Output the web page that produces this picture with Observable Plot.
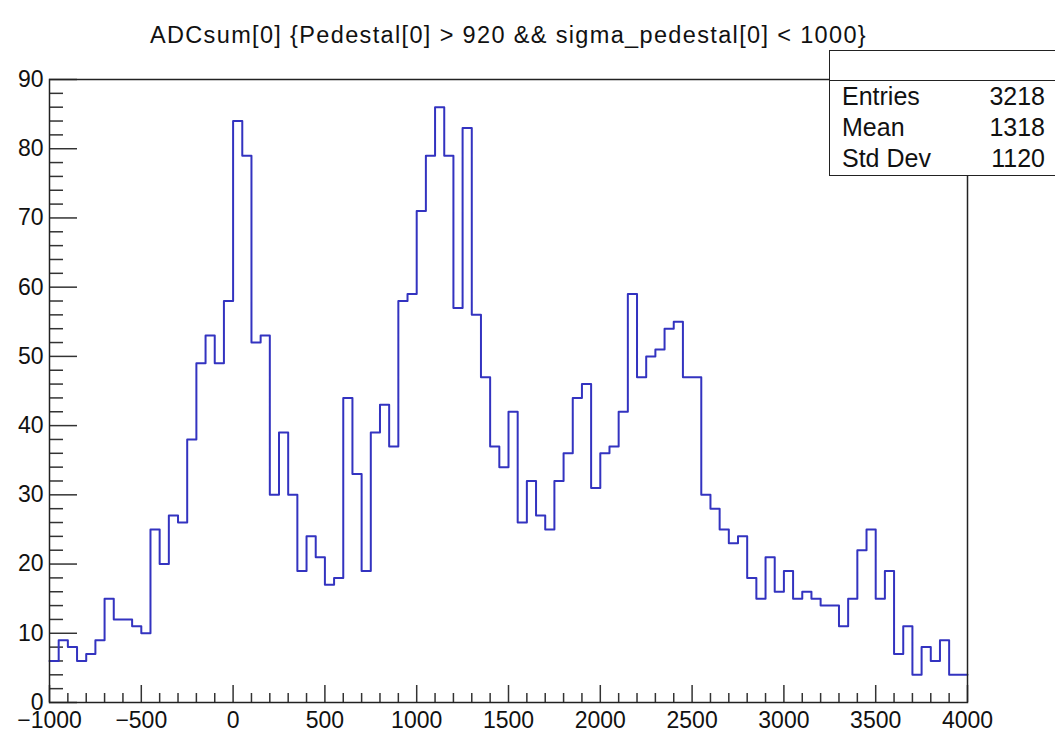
<!DOCTYPE html>
<html>
<head>
<meta charset="utf-8">
<script src="https://cdn.jsdelivr.net/npm/d3@7"></script>
<script src="https://cdn.jsdelivr.net/npm/@observablehq/plot@0.6"></script>
<style>
  html, body { margin: 0; padding: 0; background: #fff; overflow: hidden; }
  #wrap { position: relative; width: 1055px; height: 732px; font-family: "Liberation Sans", Arial, Helvetica, sans-serif; }
  #stats { position: absolute; left: 829px; top: 50px; width: 240px; height: 126px; border: 1.5px solid #222; background: #fff; box-sizing: border-box; color: #111; }
  #stats .head { height: 29px; border-bottom: 1.5px solid #222; }
  #stats .row { display: flex; justify-content: space-between; width: 215px; box-sizing: border-box; padding-left: 12px; font-size: 25px; line-height: 31px; height: 31px; }
</style>
</head>
<body>
<div id="wrap"></div>
<script>
// ---- data ----
const titleText = "ADCsum[0] {Pedestal[0] > 920 && sigma_pedestal[0] < 1000}";
const binLow = -1000;
const binWidth = 50;
const counts = [
  6, 9, 8, 6, 7, 9, 15, 12, 12, 11,
  10, 25, 20, 27, 26, 38, 49, 53, 49, 58,
  84, 79, 52, 53, 30, 39, 30, 19, 24, 21,
  17, 18, 44, 33, 19, 39, 43, 37, 58, 59,
  71, 79, 86, 79, 57, 83, 56, 47, 37, 34,
  42, 26, 32, 27, 25, 32, 36, 44, 46, 31,
  36, 37, 42, 59, 47, 50, 51, 54, 55, 47,
  47, 30, 28, 25, 23, 24, 18, 15, 21, 16,
  19, 15, 16, 15, 14, 14, 11, 15, 22, 25,
  15, 19, 7, 11, 4, 8, 6, 9, 4, 4
];
const xTicks = [-1000, -500, 0, 500, 1000, 1500, 2000, 2500, 3000, 3500, 4000];
const yTicks = [0, 10, 20, 30, 40, 50, 60, 70, 80, 90];
const statLabels = ["Entries", "Mean", "Std Dev"];
const statValues = ["3218", "1318", "1120"];

// ---- derived tables ----
const steps = counts.map((c, i) => ({x: binLow + i * binWidth, y: c}));
steps.push({x: binLow + counts.length * binWidth, y: counts[counts.length - 1]});
const xMinor = d3.range(-1000, 4001, 100).filter(v => !xTicks.includes(v));
const yMinor = d3.range(0, 91, 2).filter(v => !yTicks.includes(v));

const W = 1055, H = 732;
const mL = 49, mR = 88, mT = 79, mB = 30;
const fw = W - mL - mR, fh = H - mT - mB;
const tickCol = "#333";

const chart = Plot.plot({
  width: W, height: H,
  marginLeft: mL, marginRight: mR, marginTop: mT, marginBottom: mB,
  style: {fontFamily: "'Liberation Sans', Arial, Helvetica, sans-serif", color: "#111", background: "#fff"},
  x: {domain: [-1000, 4000]},
  y: {domain: [0, 90]},
  marks: [
    Plot.axisX(xTicks, {label: null, tickSize: 0, tickPadding: 9, fontSize: 23, tickFormat: d => d < 0 ? "\u2212" + Math.abs(d) : String(d)}),
    Plot.axisY(yTicks, {label: null, tickSize: 0, tickPadding: 6, fontSize: 23}),
    Plot.tickY(yTicks, {y: d => d, stroke: tickCol, strokeWidth: 1.5, insetRight: fw - 28}),
    Plot.tickY(yMinor, {y: d => d, stroke: tickCol, strokeWidth: 1.5, insetRight: fw - 14}),
    Plot.tickX(xTicks, {x: d => d, stroke: tickCol, strokeWidth: 1.5, insetTop: fh - 17}),
    Plot.tickX(xMinor, {x: d => d, stroke: tickCol, strokeWidth: 1.5, insetTop: fh - 9}),
    Plot.line(steps, {x: "x", y: "y", curve: "step-after", stroke: "#3333c0", strokeWidth: 2}),
    Plot.frame({stroke: "#222", strokeWidth: 1.5}),
    Plot.text([titleText], {frameAnchor: "top", dy: -53, fontSize: 23.5, fill: "#111"})
  ]
});
d3.select(chart).selectAll("text").filter(function () { return this.textContent === titleText; })
  .style("letter-spacing", "1.35px");
document.getElementById("wrap").appendChild(chart);

const stats = document.createElement("div");
stats.id = "stats";
const head = document.createElement("div");
head.className = "head";
stats.appendChild(head);
statLabels.forEach((lab, i) => {
  const row = document.createElement("div");
  row.className = "row";
  const a = document.createElement("span"); a.textContent = lab;
  const b = document.createElement("span"); b.textContent = statValues[i];
  row.appendChild(a); row.appendChild(b);
  stats.appendChild(row);
});
document.getElementById("wrap").appendChild(stats);
</script>
</body>
</html>
